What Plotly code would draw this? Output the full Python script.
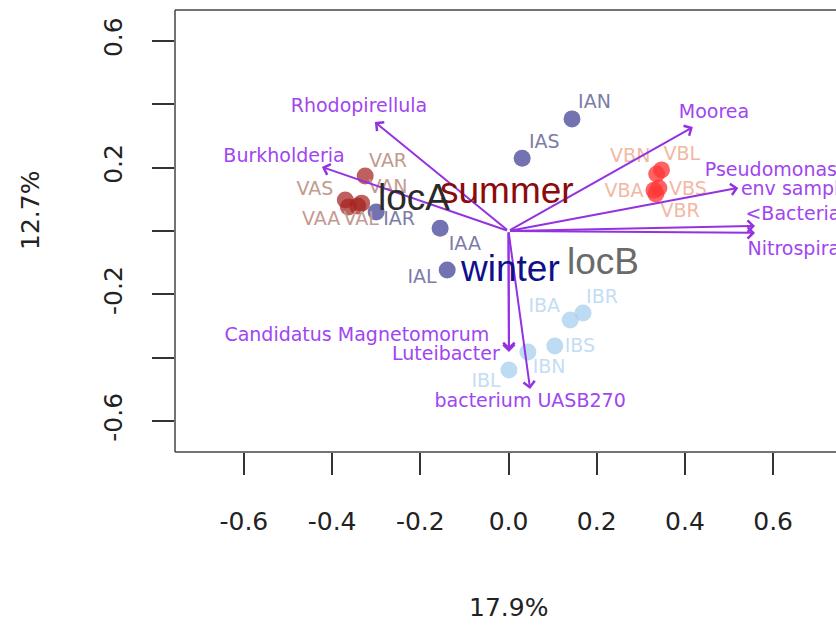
import plotly.graph_objects as go

# ---------------- data ----------------
sample_names = ["VAR", "VAS", "VAN", "VAA", "VAL",
                "IAR", "IAA", "IAL", "IAS", "IAN",
                "VBN", "VBL", "VBA", "VBS", "VBR",
                "IBA", "IBR", "IBS", "IBN", "IBL"]
sample_season = ["summer"] * 5 + ["winter"] * 5 + ["summer"] * 5 + ["winter"] * 5
sample_loc = ["locA"] * 10 + ["locB"] * 10
sample_x = [-0.325, -0.370, -0.333, -0.363, -0.342,
            -0.300, -0.155, -0.139, 0.031, 0.144,
            0.336, 0.347, 0.330, 0.341, 0.334,
            0.140, 0.169, 0.105, 0.044, 0.001]
sample_y = [0.174, 0.098, 0.088, 0.076, 0.079,
            0.060, 0.009, -0.123, 0.230, 0.354,
            0.180, 0.193, 0.129, 0.136, 0.117,
            -0.281, -0.259, -0.363, -0.382, -0.439]
label_x = [-0.273, -0.439, -0.273, -0.425, -0.334,
           -0.248, -0.099, -0.196, 0.081, 0.195,
           0.276, 0.393, 0.262, 0.407, 0.389,
           0.081, 0.212, 0.162, 0.092, -0.051]
label_y = [0.218, 0.129, 0.136, 0.035, 0.035,
           0.035, -0.044, -0.148, 0.278, 0.404,
           0.234, 0.240, 0.123, 0.129, 0.060,
           -0.240, -0.212, -0.366, -0.433, -0.477]

taxa = ["Rhodopirellula", "Burkholderia", "Moorea", "Pseudomonas",
        "env samples<br>&lt;Bacteria&gt;", "Nitrospira",
        "Candidatus Magnetomorum", "Luteibacter", "bacterium UASB270"]
taxa_x = [-0.303, -0.423, 0.418, 0.521, 0.559, 0.559, 0.001, 0.001, 0.049]
taxa_y = [0.344, 0.202, 0.328, 0.136, 0.016, -0.006, -0.376, -0.382, -0.499]
taxa_label_x = [-0.339, -0.509, 0.466, 0.595, 0.663, 0.647, -0.344, -0.142, 0.049]
taxa_label_y = [0.392, 0.234, 0.373, 0.189, 0.090, -0.060, -0.332, -0.392, -0.540]

x_ticks = [-0.6, -0.4, -0.2, 0.0, 0.2, 0.4, 0.6]
x_tick_text = ["-0.6", "-0.4", "-0.2", "0.0", "0.2", "0.4", "0.6"]
y_ticks = [-0.6, -0.4, -0.2, 0.0, 0.2, 0.4, 0.6]
y_tick_text = ["-0.6", "", "-0.2", "", "0.2", "", "0.6"]
x_title = "17.9%"
y_title = "12.7%"

# ---------------- styles ----------------
groups = [("locA", "summer"), ("locA", "winter"), ("locB", "summer"), ("locB", "winter")]
marker_col = {("locA", "summer"): "rgba(165,35,30,0.72)",
              ("locA", "winter"): "rgba(75,75,155,0.78)",
              ("locB", "summer"): "rgba(255,55,55,0.78)",
              ("locB", "winter"): "rgba(165,205,240,0.72)"}
label_col = {("locA", "summer"): "#c39a90",
             ("locA", "winter"): "#7c7ca8",
             ("locB", "summer"): "#f2b8a4",
             ("locB", "winter"): "#c4ddf4"}
centroid_col = {"summer": "#8b0a0a", "winter": "#10108b",
                "locA": "#2a2a2a", "locB": "#6a6a6a"}
arrow_col = "#9333e0"
taxa_col = "#a045f0"
small_font = "DejaVu Sans"
big_font = "Liberation Sans, Arial"

fig = go.Figure()

# points
for g in groups:
    idx = [i for i in range(len(sample_names)) if (sample_loc[i], sample_season[i]) == g]
    fig.add_trace(go.Scatter(
        x=[sample_x[i] for i in idx], y=[sample_y[i] for i in idx],
        mode="markers", marker=dict(size=17, color=marker_col[g], line=dict(width=0)),
        hoverinfo="skip", showlegend=False))

# point labels
for g in groups:
    idx = [i for i in range(len(sample_names)) if (sample_loc[i], sample_season[i]) == g]
    fig.add_trace(go.Scatter(
        x=[label_x[i] for i in idx], y=[label_y[i] for i in idx],
        text=[sample_names[i] for i in idx], mode="text",
        textfont=dict(family=small_font, size=19, color=label_col[g]),
        hoverinfo="skip", showlegend=False))

# taxa labels
fig.add_trace(go.Scatter(
    x=taxa_label_x, y=taxa_label_y, text=taxa, mode="text",
    textfont=dict(family=small_font, size=19, color=taxa_col),
    hoverinfo="skip", showlegend=False, cliponaxis=False))

annotations = []
# arrows
for tx, ty in zip(taxa_x, taxa_y):
    annotations.append(dict(
        x=tx, y=ty, ax=0, ay=0, xref="x", yref="y", axref="x", ayref="y",
        text="", showarrow=True, arrowhead=4, arrowsize=1.1, arrowwidth=2,
        arrowcolor=arrow_col, standoff=0, startstandoff=0))

# centroid labels
def mean(v):
    return sum(v) / len(v)

for key in ["summer", "winter", "locA", "locB"]:
    idx = [i for i in range(len(sample_names)) if sample_season[i] == key or sample_loc[i] == key]
    annotations.append(dict(
        x=mean([sample_x[i] for i in idx]), y=mean([sample_y[i] for i in idx]),
        xref="x", yref="y", text=key, showarrow=False,
        font=dict(family=big_font, size=37, color=centroid_col[key]),
        xanchor="center", yanchor="middle"))

# axis titles
annotations.append(dict(x=0.0, y=-0.3507, xref="x", yref="paper", text=x_title,
                        showarrow=False, font=dict(family=small_font, size=25, color="#222"),
                        xanchor="center", yanchor="middle"))
annotations.append(dict(x=-0.2194, y=0.5475, xref="paper", yref="paper", text=y_title,
                        textangle=-90, showarrow=False,
                        font=dict(family=small_font, size=25, color="#222"),
                        xanchor="center", yanchor="middle"))

box_col = "#444444"
shapes = [
    dict(type="line", xref="paper", yref="paper", x0=0, x1=0, y0=0, y1=1,
         line=dict(color=box_col, width=1.5)),
    dict(type="line", xref="paper", yref="paper", x0=0, x1=1.01, y0=1, y1=1,
         line=dict(color=box_col, width=1.5)),
    dict(type="line", xref="paper", yref="paper", x0=0, x1=1.01, y0=0, y1=0,
         line=dict(color=box_col, width=1.5)),
]

fig.update_layout(
    width=836, height=625,
    margin=dict(l=175, r=0, t=10, b=173),
    paper_bgcolor="white", plot_bgcolor="white",
    annotations=annotations, shapes=shapes,
    xaxis=dict(range=[-0.7562, 0.7426], tickvals=x_ticks, ticktext=x_tick_text,
               ticks="outside", ticklen=22, tickwidth=1.5, tickcolor="#333",
               showgrid=False, zeroline=False, showline=False,
               tickfont=dict(family=small_font, size=25, color="#222"),
               ticklabelstandoff=25),
    yaxis=dict(range=[-0.6978, 0.6978], tickvals=y_ticks, ticktext=y_tick_text,
               ticks="outside", ticklen=22, tickwidth=1.5, tickcolor="#333",
               showgrid=False, zeroline=False, showline=False, tickangle=-90,
               tickfont=dict(family=small_font, size=25, color="#222"),
               ticklabelstandoff=20),
)

fig.write_html("out.html")
